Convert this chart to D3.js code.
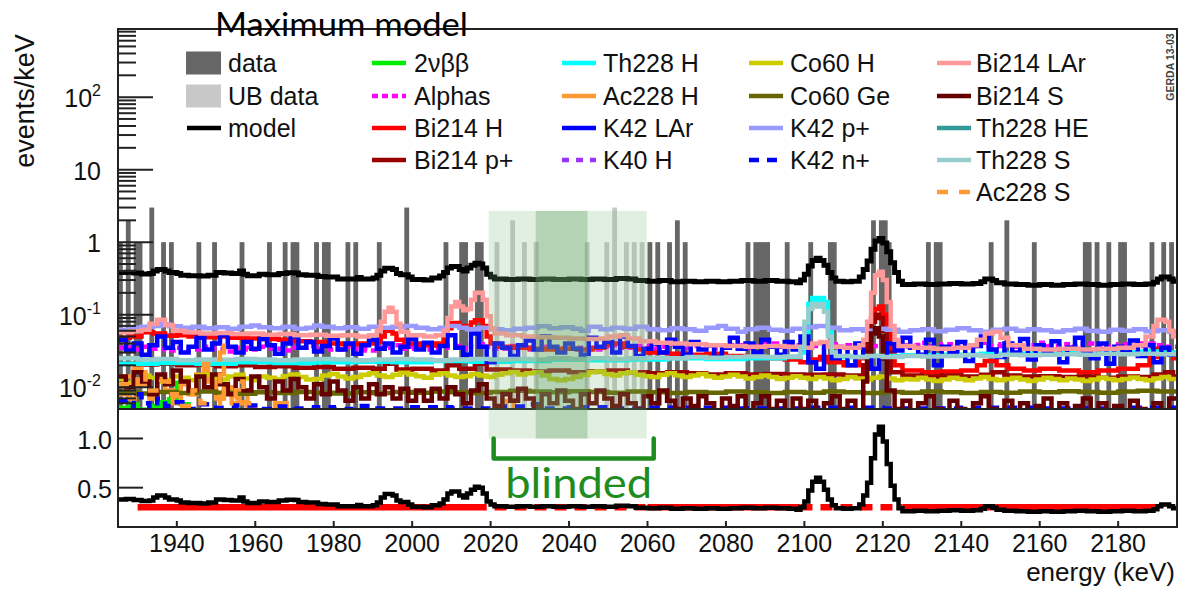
<!DOCTYPE html>
<html><head><meta charset="utf-8">
<script src="https://cdn.jsdelivr.net/npm/d3@7"></script>
<style>body{margin:0;background:#fff}svg{display:block}</style>
</head><body>
<svg id="c" width="1180" height="589"></svg>
<script>
// ---------------- DATA (events/keV, step histograms: [bin start keV, value]) ----------------
const energyDomain = [1925, 2195];
const xTickValues = [1940,1960,1980,2000,2020,2040,2060,2080,2100,2120,2140,2160,2180];
const yTopTicks = [0.01, 0.1, 1, 10, 100];
const yTopTickLabels = [["10","-2"],["10","-1"],["1",""],["10",""],["10","2"]];
const yBotTicks = [0.5, 1.0];
const yBotTickLabels = ["0.5", "1.0"];

const dataBins = [[1925,1],[1927,2],[1929,1],[1930,1],[1933,3],[1936,1],[1938,1],[1945,1],[1949,1],[1956,1],[1963,1],[1967,1],[1969,1],[1970,1],[1975,1],[1977,1],[1978,1],[1983,1],[1985,1],[1991,1],[1998,3],[2008,1],[2012,1],[2013,1],[2016,1],[2017,1],[2060,1],[2062,1],[2065,1],[2067,2],[2069,1],[2085,1],[2087,1],[2088,1],[2089,1],[2090,1],[2095,1],[2101,1],[2106,1],[2107,1],[2117,2],[2119,2],[2120,2],[2121,1],[2131,1],[2133,1],[2134,1],[2147,1],[2151,2],[2158,1],[2171,1],[2172,1],[2174,1],[2177,1],[2180,1],[2181,1],[2188,1],[2191,1],[2193,1]];
const ubDataBins = [[2021,1],[2025,2],[2028,1],[2031,1],[2044,1],[2049,1],[2051,3],[2054,1],[2056,1],[2058,1]];

const model = [[1925,0.38],[1927,0.385],[1929,0.375],[1931,0.365],[1933,0.37],[1934,0.40],[1935,0.42],[1937,0.40],[1938,0.38],[1940,0.37],[1941,0.35],[1943,0.345],[1946,0.34],[1948,0.35],[1950,0.38],[1952,0.375],[1954,0.37],[1956,0.40],[1957,0.36],[1958,0.345],[1961,0.36],[1963,0.355],[1966,0.37],[1968,0.378],[1970,0.375],[1971,0.355],[1973,0.35],[1976,0.335],[1978,0.33],[1980,0.33],[1981,0.31],[1984,0.31],[1986,0.325],[1987,0.31],[1990,0.32],[1991,0.35],[1992,0.40],[1993,0.435],[1995,0.42],[1996,0.37],[1997,0.355],[1999,0.33],[2000,0.305],[2003,0.30],[2005,0.32],[2007,0.34],[2008,0.38],[2009,0.44],[2010,0.46],[2012,0.42],[2013,0.40],[2014,0.44],[2015,0.48],[2016,0.51],[2017,0.50],[2018,0.44],[2019,0.36],[2020,0.33],[2021,0.31],[2024,0.305],[2027,0.31],[2030,0.305],[2033,0.31],[2036,0.305],[2040,0.31],[2043,0.305],[2046,0.31],[2049,0.305],[2052,0.315],[2055,0.31],[2057,0.295],[2060,0.29],[2063,0.295],[2066,0.285],[2069,0.29],[2072,0.285],[2075,0.29],[2078,0.285],[2081,0.29],[2084,0.295],[2087,0.29],[2090,0.295],[2093,0.29],[2096,0.285],[2098,0.275],[2099,0.30],[2100,0.36],[2101,0.47],[2102,0.56],[2103,0.60],[2104,0.56],[2105,0.48],[2106,0.38],[2107,0.32],[2108,0.29],[2110,0.285],[2112,0.29],[2114,0.33],[2115,0.42],[2116,0.55],[2117,0.80],[2118,1.04],[2119,1.12],[2120,0.97],[2121,0.74],[2122,0.52],[2123,0.38],[2124,0.29],[2125,0.26],[2128,0.265],[2131,0.26],[2134,0.265],[2137,0.27],[2140,0.265],[2143,0.27],[2145,0.285],[2146,0.31],[2148,0.295],[2149,0.275],[2151,0.265],[2154,0.26],[2157,0.255],[2160,0.26],[2163,0.255],[2166,0.26],[2169,0.265],[2172,0.26],[2175,0.255],[2178,0.26],[2181,0.265],[2184,0.26],[2187,0.265],[2189,0.28],[2190,0.31],[2191,0.33],[2193,0.31],[2194,0.29]];

const flatBkgLevel = 0.3;
const flatBkgSegments = [[1930,2019,false],[2021,2059.5,true],[2060,2099,false],[2099,2125,true],[2125,2190,false]];

const s2nbb = [[1925,0.0052],[1928,0.0058],[1930,0.0049],[1933,0.0055],[1936,0.0062],[1938,0.0068],[1940,0.0115],[1941,0.0058],[1943,0.0048],[1946,0.0045],[1955,0.004],[1970,0.0035],[2000,0.003],[2100,0.0022],[2190,0.0018]];
const sAlphas = [[1925,0.035],[1928,0.033],[1931,0.036],[1934,0.034],[1937,0.032],[1940,0.035],[1943,0.033],[1946,0.036],[1949,0.034],[1952,0.031],[1955,0.035],[1958,0.033],[1961,0.036],[1964,0.034],[1967,0.032],[1970,0.035],[1973,0.037],[1976,0.034],[1979,0.033],[1982,0.036],[1985,0.034],[1988,0.032],[1991,0.035],[1994,0.038],[1997,0.034],[2000,0.036],[2003,0.033],[2006,0.035],[2009,0.037],[2012,0.034],[2015,0.039],[2018,0.036],[2021,0.034],[2024,0.037],[2027,0.035],[2030,0.033],[2033,0.036],[2036,0.034],[2039,0.037],[2042,0.035],[2045,0.033],[2048,0.036],[2051,0.038],[2054,0.035],[2057,0.037],[2060,0.034],[2063,0.036],[2066,0.039],[2069,0.035],[2072,0.037],[2075,0.034],[2078,0.036],[2081,0.038],[2084,0.035],[2087,0.037],[2090,0.04],[2093,0.036],[2096,0.038],[2099,0.035],[2102,0.037],[2105,0.039],[2108,0.036],[2111,0.038],[2114,0.035],[2117,0.037],[2120,0.04],[2123,0.036],[2126,0.038],[2129,0.041],[2132,0.037],[2135,0.039],[2138,0.036],[2141,0.038],[2144,0.041],[2147,0.037],[2150,0.039],[2153,0.036],[2156,0.038],[2159,0.041],[2162,0.037],[2165,0.039],[2168,0.036],[2171,0.04],[2174,0.038],[2177,0.036],[2180,0.039],[2183,0.037],[2186,0.04],[2189,0.038],[2192,0.036]];
const sBi214H = [[1925,0.048],[1928,0.05],[1931,0.057],[1934,0.055],[1937,0.051],[1940,0.052],[1943,0.05],[1946,0.049],[1950,0.05],[1954,0.048],[1958,0.047],[1962,0.046],[1966,0.045],[1970,0.043],[1974,0.042],[1978,0.04],[1982,0.039],[1986,0.04],[1990,0.042],[1992,0.05],[1993,0.06],[1994,0.063],[1995,0.055],[1996,0.045],[1998,0.04],[2002,0.038],[2006,0.04],[2008,0.05],[2009,0.065],[2010,0.077],[2012,0.07],[2014,0.068],[2015,0.078],[2016,0.084],[2018,0.07],[2019,0.05],[2020,0.04],[2022,0.036],[2026,0.035],[2030,0.034],[2034,0.033],[2038,0.034],[2042,0.033],[2046,0.035],[2049,0.038],[2051,0.04],[2054,0.036],[2057,0.033],[2060,0.03],[2065,0.029],[2070,0.028],[2075,0.029],[2080,0.027],[2085,0.026],[2090,0.025],[2095,0.024],[2099,0.022],[2102,0.024],[2104,0.026],[2106,0.022],[2110,0.02],[2114,0.025],[2116,0.05],[2117,0.09],[2118,0.12],[2119,0.13],[2120,0.1],[2121,0.06],[2122,0.03],[2123,0.02],[2125,0.017],[2130,0.016],[2135,0.0165],[2140,0.017],[2144,0.02],[2146,0.023],[2149,0.02],[2152,0.018],[2156,0.017],[2160,0.018],[2165,0.017],[2170,0.016],[2175,0.017],[2180,0.018],[2185,0.02],[2188,0.026],[2190,0.034],[2192,0.03],[2194,0.025]];
const sBi214p = [[1925,0.021],[1930,0.0205],[1935,0.021],[1940,0.02],[1945,0.0205],[1950,0.0195],[1955,0.02],[1960,0.019],[1965,0.0195],[1970,0.0185],[1975,0.019],[1980,0.018],[1985,0.0185],[1990,0.018],[1993,0.021],[1996,0.0175],[2000,0.018],[2005,0.017],[2009,0.02],[2012,0.018],[2016,0.021],[2019,0.0175],[2025,0.017],[2030,0.0165],[2035,0.017],[2040,0.016],[2045,0.0165],[2050,0.017],[2055,0.016],[2060,0.0155],[2065,0.016],[2070,0.0155],[2075,0.015],[2080,0.0155],[2085,0.015],[2090,0.0152],[2095,0.015],[2100,0.0148],[2105,0.015],[2110,0.0145],[2115,0.02],[2116,0.045],[2117,0.08],[2118,0.1],[2119,0.09],[2120,0.06],[2121,0.03],[2122,0.016],[2125,0.0145],[2130,0.014],[2135,0.0145],[2140,0.014],[2145,0.0148],[2148,0.016],[2151,0.0145],[2155,0.014],[2160,0.0142],[2165,0.0138],[2170,0.014],[2175,0.0135],[2180,0.014],[2185,0.0138],[2189,0.015],[2192,0.016],[2194,0.014]];
const sTh228H = [[1925,0.021],[1935,0.0215],[1945,0.021],[1955,0.022],[1965,0.0215],[1975,0.022],[1985,0.0225],[1995,0.022],[2005,0.023],[2015,0.0225],[2025,0.023],[2035,0.024],[2045,0.0235],[2055,0.024],[2065,0.025],[2075,0.0245],[2085,0.025],[2095,0.026],[2099,0.03],[2100,0.05],[2101,0.14],[2102,0.17],[2103,0.16],[2104,0.17],[2105,0.15],[2106,0.06],[2107,0.03],[2108,0.026],[2115,0.027],[2125,0.0275],[2135,0.028],[2145,0.029],[2155,0.029],[2165,0.03],[2175,0.03],[2185,0.031],[2190,0.03]];
const sAc228H = [[1925,0.008],[1927,0.014],[1929,0.018],[1931,0.011],[1933,0.007],[1935,0.013],[1937,0.009],[1939,0.006],[1941,0.011],[1943,0.008],[1945,0.015],[1947,0.022],[1948,0.012],[1950,0.007],[1952,0.01],[1954,0.006],[1956,0.009],[1958,0.005],[1960,0.0045],[1965,0.006],[1968,0.004],[1975,0.0045],[1980,0.004],[2000,0.0035],[2024,0.0065],[2026,0.004],[2050,0.0035],[2100,0.003]];
const sK42LAr = [[1925,0.045],[1927,0.032],[1929,0.04],[1931,0.028],[1933,0.038],[1935,0.05],[1937,0.035],[1939,0.042],[1941,0.03],[1943,0.036],[1945,0.048],[1947,0.033],[1949,0.04],[1951,0.052],[1953,0.036],[1955,0.03],[1957,0.042],[1959,0.034],[1961,0.046],[1963,0.038],[1965,0.029],[1967,0.04],[1969,0.05],[1971,0.035],[1973,0.042],[1975,0.031],[1977,0.037],[1979,0.047],[1981,0.033],[1983,0.04],[1985,0.029],[1987,0.038],[1989,0.045],[1991,0.034],[1993,0.04],[1995,0.03],[1997,0.036],[1999,0.046],[2001,0.033],[2003,0.041],[2005,0.03],[2007,0.037],[2009,0.052],[2011,0.035],[2013,0.028],[2015,0.055],[2017,0.036],[2019,0.022],[2021,0.04],[2023,0.035],[2025,0.027],[2027,0.038],[2029,0.044],[2031,0.033],[2033,0.05],[2035,0.036],[2037,0.03],[2039,0.04],[2041,0.034],[2043,0.028],[2045,0.048],[2047,0.036],[2049,0.042],[2051,0.03],[2053,0.05],[2055,0.037],[2057,0.027],[2059,0.034],[2061,0.04],[2063,0.03],[2065,0.045],[2067,0.036],[2069,0.028],[2071,0.042],[2073,0.033],[2075,0.038],[2077,0.026],[2079,0.035],[2081,0.048],[2083,0.034],[2085,0.04],[2087,0.03],[2089,0.045],[2091,0.036],[2093,0.028],[2095,0.042],[2097,0.033],[2099,0.05],[2101,0.022],[2103,0.018],[2105,0.038],[2107,0.025],[2109,0.035],[2111,0.02],[2113,0.04],[2115,0.03],[2117,0.018],[2119,0.025],[2121,0.04],[2123,0.032],[2125,0.048],[2127,0.035],[2129,0.028],[2131,0.045],[2133,0.02],[2135,0.036],[2137,0.03],[2139,0.042],[2141,0.023],[2143,0.037],[2145,0.05],[2147,0.033],[2149,0.026],[2151,0.04],[2153,0.03],[2155,0.046],[2157,0.024],[2159,0.038],[2161,0.03],[2163,0.043],[2165,0.022],[2167,0.035],[2169,0.048],[2171,0.032],[2173,0.025],[2175,0.04],[2177,0.021],[2179,0.036],[2181,0.03],[2183,0.044],[2185,0.027],[2187,0.038],[2189,0.022],[2191,0.035],[2193,0.028]];
const sK40H = [[1925,0.0042],[1960,0.0040],[2000,0.0038],[2060,0.0037],[2120,0.0036],[2160,0.0035]];
const sCo60H = [[1925,0.013],[1927,0.0115],[1929,0.0125],[1931,0.0145],[1933,0.0135],[1935,0.012],[1937,0.0125],[1939,0.014],[1941,0.0135],[1943,0.0125],[1945,0.0145],[1947,0.015],[1949,0.0135],[1951,0.0128],[1953,0.014],[1955,0.0148],[1957,0.0132],[1959,0.0125],[1961,0.014],[1963,0.0135],[1965,0.0128],[1967,0.0142],[1969,0.015],[1971,0.0138],[1973,0.0128],[1975,0.013],[1977,0.0145],[1979,0.0152],[1981,0.014],[1983,0.0132],[1985,0.0138],[1987,0.0148],[1989,0.0155],[1991,0.0145],[1993,0.0138],[1995,0.0148],[1997,0.0158],[1999,0.015],[2001,0.0142],[2003,0.0135],[2005,0.0148],[2007,0.0155],[2009,0.0145],[2011,0.0138],[2013,0.0142],[2015,0.0152],[2017,0.0145],[2019,0.0138],[2021,0.0148],[2023,0.0155],[2025,0.0162],[2027,0.015],[2029,0.0155],[2031,0.016],[2033,0.0145],[2035,0.013],[2037,0.0125],[2039,0.013],[2041,0.0138],[2043,0.0148],[2045,0.016],[2047,0.0165],[2049,0.0152],[2051,0.0145],[2053,0.0155],[2055,0.016],[2057,0.0148],[2059,0.0142],[2061,0.0138],[2063,0.0148],[2065,0.0155],[2067,0.0145],[2069,0.0138],[2071,0.0145],[2073,0.0152],[2075,0.0142],[2077,0.0135],[2079,0.014],[2081,0.0148],[2083,0.014],[2085,0.0132],[2087,0.0138],[2089,0.0145],[2091,0.0138],[2093,0.013],[2095,0.0135],[2097,0.0142],[2099,0.0135],[2101,0.013],[2103,0.0138],[2105,0.0132],[2107,0.0125],[2109,0.013],[2111,0.0138],[2113,0.0132],[2115,0.0128],[2117,0.0135],[2119,0.014],[2121,0.0132],[2123,0.0125],[2125,0.013],[2127,0.0128],[2129,0.0135],[2131,0.0128],[2133,0.0122],[2135,0.0128],[2137,0.0135],[2139,0.013],[2141,0.0125],[2143,0.0132],[2145,0.0138],[2147,0.013],[2149,0.0125],[2151,0.013],[2153,0.0135],[2155,0.0128],[2157,0.0122],[2159,0.0128],[2161,0.0135],[2163,0.013],[2165,0.0125],[2167,0.0132],[2169,0.0128],[2171,0.0122],[2173,0.0128],[2175,0.0135],[2177,0.013],[2179,0.0125],[2181,0.013],[2183,0.0136],[2185,0.013],[2187,0.0125],[2189,0.0132],[2191,0.0138],[2193,0.013]];
const sCo60Ge = [[1925,0.0085],[1930,0.0082],[1935,0.0086],[1940,0.0083],[1945,0.0087],[1950,0.0084],[1955,0.0081],[1960,0.0085],[1965,0.0083],[1970,0.0086],[1975,0.0084],[1980,0.0082],[1985,0.0085],[1990,0.0083],[1995,0.0086],[2000,0.0084],[2005,0.0087],[2010,0.0085],[2015,0.0083],[2020,0.0086],[2025,0.0089],[2030,0.0087],[2035,0.0085],[2040,0.0088],[2045,0.0086],[2050,0.0084],[2055,0.0087],[2060,0.0085],[2065,0.0083],[2070,0.0086],[2075,0.0084],[2080,0.0087],[2085,0.0085],[2090,0.0083],[2095,0.0086],[2100,0.0084],[2105,0.0087],[2110,0.0085],[2115,0.0083],[2120,0.0086],[2125,0.0084],[2130,0.0087],[2135,0.0085],[2140,0.0083],[2145,0.0086],[2150,0.0084],[2155,0.0087],[2160,0.0085],[2165,0.0088],[2170,0.0086],[2175,0.0084],[2180,0.0087],[2185,0.0089],[2190,0.0087]];
const sK42p = [[1925,0.062],[1928,0.066],[1931,0.068],[1934,0.070],[1936,0.074],[1938,0.069],[1941,0.066],[1944,0.068],[1947,0.065],[1950,0.067],[1953,0.064],[1956,0.068],[1959,0.071],[1961,0.067],[1964,0.065],[1967,0.068],[1970,0.064],[1973,0.066],[1975,0.071],[1977,0.068],[1980,0.065],[1983,0.067],[1986,0.064],[1989,0.068],[1992,0.066],[1995,0.068],[1998,0.070],[2001,0.066],[2004,0.063],[2007,0.066],[2009,0.070],[2012,0.066],[2014,0.063],[2017,0.066],[2020,0.063],[2023,0.061],[2026,0.064],[2029,0.066],[2032,0.069],[2035,0.065],[2038,0.067],[2041,0.064],[2043,0.060],[2045,0.068],[2048,0.063],[2051,0.066],[2054,0.064],[2057,0.068],[2060,0.063],[2063,0.061],[2066,0.065],[2069,0.063],[2072,0.060],[2075,0.066],[2078,0.070],[2080,0.064],[2083,0.058],[2085,0.063],[2088,0.066],[2091,0.062],[2094,0.060],[2097,0.064],[2100,0.067],[2103,0.070],[2106,0.066],[2109,0.061],[2112,0.063],[2115,0.060],[2118,0.064],[2121,0.062],[2124,0.058],[2127,0.061],[2130,0.063],[2133,0.059],[2136,0.062],[2139,0.065],[2142,0.061],[2145,0.058],[2148,0.062],[2151,0.064],[2154,0.060],[2157,0.063],[2160,0.061],[2163,0.058],[2166,0.061],[2169,0.064],[2172,0.060],[2175,0.058],[2178,0.062],[2181,0.060],[2184,0.063],[2187,0.059],[2190,0.061],[2193,0.058]];
const sK42n = [[1925,0.0065],[1927,0.0055],[1929,0.008],[1931,0.006],[1933,0.0052],[1935,0.007],[1937,0.0055],[1940,0.0062],[1943,0.005],[1946,0.0058],[1950,0.0052],[1955,0.0056],[1960,0.005],[1965,0.0054],[1970,0.0051],[1975,0.0053],[1980,0.005],[1985,0.0055],[1990,0.0051],[2000,0.0053],[2010,0.0051],[2020,0.0054],[2030,0.0058],[2033,0.0051],[2040,0.0053],[2050,0.0051],[2060,0.0052],[2080,0.0051],[2100,0.0052],[2120,0.0051],[2140,0.0052],[2160,0.0051],[2180,0.0052]];
const sBi214LAr = [[1925,0.057],[1928,0.059],[1931,0.062],[1933,0.075],[1935,0.085],[1937,0.072],[1939,0.06],[1942,0.057],[1946,0.055],[1950,0.056],[1954,0.054],[1958,0.055],[1962,0.053],[1966,0.054],[1970,0.052],[1974,0.053],[1978,0.051],[1982,0.052],[1986,0.05],[1989,0.052],[1991,0.06],[1992,0.08],[1993,0.11],[1994,0.125],[1995,0.11],[1996,0.075],[1997,0.058],[1999,0.052],[2003,0.05],[2006,0.052],[2008,0.06],[2009,0.09],[2010,0.13],[2011,0.15],[2012,0.13],[2013,0.115],[2014,0.12],[2015,0.16],[2016,0.2],[2017,0.2],[2018,0.16],[2019,0.095],[2020,0.065],[2021,0.055],[2024,0.052],[2028,0.05],[2032,0.049],[2036,0.048],[2040,0.047],[2044,0.046],[2048,0.047],[2050,0.05],[2053,0.052],[2055,0.047],[2058,0.043],[2062,0.041],[2066,0.04],[2070,0.039],[2075,0.038],[2080,0.037],[2085,0.036],[2090,0.037],[2095,0.036],[2099,0.035],[2102,0.04],[2104,0.042],[2106,0.036],[2110,0.035],[2114,0.038],[2115,0.045],[2116,0.08],[2117,0.2],[2118,0.35],[2119,0.39],[2120,0.3],[2121,0.15],[2122,0.07],[2123,0.045],[2124,0.037],[2128,0.035],[2133,0.034],[2138,0.035],[2142,0.038],[2144,0.045],[2146,0.055],[2148,0.058],[2150,0.048],[2152,0.038],[2156,0.034],[2160,0.033],[2165,0.034],[2170,0.033],[2175,0.034],[2180,0.035],[2184,0.038],[2187,0.05],[2189,0.07],[2190,0.085],[2192,0.08],[2193,0.06],[2194,0.05]];
const sBi214S = [[1925,0.014],[1927,0.010],[1929,0.016],[1931,0.012],[1933,0.008],[1935,0.015],[1937,0.011],[1939,0.017],[1941,0.012],[1943,0.009],[1945,0.014],[1947,0.010],[1949,0.015],[1951,0.011],[1953,0.008],[1955,0.013],[1957,0.009],[1959,0.014],[1961,0.010],[1963,0.007],[1965,0.012],[1967,0.009],[1969,0.013],[1971,0.010],[1973,0.007],[1975,0.011],[1977,0.008],[1979,0.012],[1981,0.009],[1983,0.0065],[1985,0.010],[1987,0.007],[1989,0.011],[1991,0.008],[1993,0.010],[1995,0.007],[1997,0.0095],[1999,0.0065],[2001,0.009],[2003,0.0065],[2005,0.0095],[2007,0.007],[2009,0.010],[2011,0.008],[2013,0.006],[2015,0.009],[2017,0.011],[2019,0.007],[2021,0.0055],[2023,0.008],[2025,0.0065],[2027,0.0095],[2029,0.007],[2031,0.0055],[2033,0.008],[2035,0.006],[2037,0.009],[2039,0.0065],[2041,0.005],[2043,0.008],[2045,0.006],[2047,0.009],[2049,0.007],[2051,0.0055],[2053,0.008],[2055,0.006],[2057,0.005],[2059,0.0075],[2061,0.006],[2063,0.009],[2065,0.0065],[2067,0.005],[2069,0.007],[2071,0.0055],[2073,0.0075],[2075,0.006],[2077,0.0045],[2079,0.007],[2081,0.0055],[2083,0.0075],[2085,0.0045],[2087,0.006],[2089,0.0075],[2091,0.005],[2093,0.0065],[2095,0.0045],[2097,0.007],[2099,0.005],[2101,0.0065],[2103,0.0045],[2105,0.006],[2107,0.0075],[2109,0.005],[2111,0.0065],[2113,0.0045],[2115,0.012],[2116,0.03],[2117,0.055],[2118,0.065],[2119,0.05],[2120,0.025],[2121,0.009],[2123,0.005],[2125,0.0065],[2127,0.0045],[2129,0.006],[2131,0.0075],[2133,0.005],[2135,0.0042],[2137,0.0065],[2139,0.005],[2141,0.0042],[2143,0.006],[2145,0.0075],[2147,0.005],[2149,0.0042],[2151,0.0065],[2153,0.0048],[2155,0.006],[2157,0.0042],[2159,0.0055],[2161,0.007],[2163,0.0048],[2165,0.006],[2167,0.0042],[2169,0.0055],[2171,0.007],[2173,0.0048],[2175,0.006],[2177,0.0042],[2179,0.0055],[2181,0.0048],[2183,0.0065],[2185,0.005],[2187,0.0042],[2189,0.006],[2191,0.0048],[2193,0.007]];
const sTh228HE = [[1925,0.0045],[1980,0.0043],[2040,0.0042],[2100,0.0041],[2160,0.004]];
const sTh228S = [[1925,0.025],[1930,0.024],[1935,0.0245],[1940,0.0235],[1945,0.024],[1950,0.0238],[1955,0.0245],[1960,0.024],[1965,0.0235],[1970,0.024],[1975,0.0245],[1980,0.024],[1985,0.0235],[1990,0.024],[1995,0.0245],[2000,0.024],[2005,0.0235],[2010,0.024],[2015,0.0245],[2020,0.024],[2025,0.0245],[2030,0.024],[2035,0.025],[2040,0.0245],[2045,0.025],[2050,0.0245],[2055,0.025],[2060,0.0255],[2065,0.025],[2070,0.026],[2075,0.0255],[2080,0.026],[2085,0.0265],[2090,0.026],[2095,0.0265],[2099,0.035],[2100,0.08],[2101,0.12],[2102,0.14],[2103,0.13],[2104,0.14],[2105,0.11],[2106,0.05],[2107,0.03],[2108,0.027],[2112,0.026],[2116,0.027],[2120,0.026],[2125,0.027],[2130,0.0265],[2135,0.027],[2140,0.0275],[2145,0.027],[2150,0.028],[2155,0.0275],[2160,0.028],[2165,0.0285],[2170,0.028],[2175,0.029],[2180,0.0285],[2185,0.029],[2190,0.0285]];
const sAc228S = [[1925,0.011],[1928,0.007],[1930,0.016],[1932,0.009],[1936,0.012],[1938,0.008],[1940,0.0055],[1944,0.009],[1946,0.006],[1951,0.04],[1952,0.007],[1955,0.012],[1957,0.006],[1960,0.0045],[1970,0.004],[2000,0.0035],[2100,0.003]];

const blindedOuter = [2019.5, 2059.8];
const blindedInner = [2031.5, 2044.7];

// ---------------- SETUP ----------------
const FONT = '"Liberation Sans", Arial, Helvetica, sans-serif';
const svg = d3.select('#c');
const x = d3.scaleLinear().domain(energyDomain).range([118, 1177]);
const yT = d3.scaleLog().domain([0.005, 870]).range([409, 29]);
const yB = d3.scaleLinear().domain([0.1, 1.3]).range([527, 409]);

const defs = svg.append('defs');
defs.append('clipPath').attr('id','clipT').append('rect')
  .attr('x',x.range()[0]).attr('y',yT.range()[1]).attr('width',x.range()[1]-x.range()[0]).attr('height',yT.range()[0]-yT.range()[1]);
defs.append('clipPath').attr('id','clipB').append('rect')
  .attr('x',x.range()[0]).attr('y',yB.range()[1]).attr('width',x.range()[1]-x.range()[0]).attr('height',yB.range()[0]-yB.range()[1]);

const ext = p => p.concat([[energyDomain[1], p[p.length-1][1]]]);
const stepT = d3.line().x(d=>x(d[0])).y(d=>yT(d[1])).curve(d3.curveStepAfter);
const stepB = d3.line().x(d=>x(d[0])).y(d=>yB(d[1])).curve(d3.curveStepAfter);

// ---------------- TOP PANEL ----------------
const gT = svg.append('g').attr('clip-path','url(#clipT)');
const bar = (sel, bins, color) => sel.selectAll(null).data(bins).join('rect')
  .attr('x', d=>x(d[0])).attr('width', d=>x(d[0]+1)-x(d[0])+0.9)
  .attr('y', d=>yT(d[1])).attr('height', d=>yT.range()[0]-yT(d[1])).attr('fill', color);
bar(gT, dataBins, '#666666');
bar(gT, ubDataBins, '#c8c8c8');

const components = [
  {name:'2νββ', data:s2nbb, color:'#00ee00'},
  {name:'Alphas', data:sAlphas, color:'#ff00ff', dash:'6,4'},
  {name:'Bi214 H', data:sBi214H, color:'#ff0000'},
  {name:'Bi214 p+', data:sBi214p, color:'#990000'},
  {name:'Th228 H', data:sTh228H, color:'#00ffff'},
  {name:'Ac228 H', data:sAc228H, color:'#ff9933'},
  {name:'K42 LAr', data:sK42LAr, color:'#0000ff'},
  {name:'K40 H', data:sK40H, color:'#9933ff', dash:'7,7'},
  {name:'Co60 H', data:sCo60H, color:'#cccc00'},
  {name:'Co60 Ge', data:sCo60Ge, color:'#666600'},
  {name:'K42 p+', data:sK42p, color:'#9999ff'},
  {name:'K42 n+', data:sK42n, color:'#0000ff', dash:'10,8'},
  {name:'Bi214 LAr', data:sBi214LAr, color:'#ff9999'},
  {name:'Bi214 S', data:sBi214S, color:'#660000'},
  {name:'Th228 HE', data:sTh228HE, color:'#339999'},
  {name:'Th228 S', data:sTh228S, color:'#99cccc'},
  {name:'Ac228 S', data:sAc228S, color:'#ff9933', dash:'11,11'}
];
components.forEach(c => {
  gT.append('path').attr('d', stepT(ext(c.data))).attr('fill','none')
    .attr('stroke', c.color).attr('stroke-width', 4.5)
    .attr('stroke-dasharray', c.dash || null);
});
gT.append('path').attr('d', stepT(ext(model))).attr('fill','none').attr('stroke','#000').attr('stroke-width',5);

// ---------------- BOTTOM PANEL ----------------
const gB = svg.append('g').attr('clip-path','url(#clipB)');
flatBkgSegments.forEach(s => {
  gB.append('line').attr('x1',x(s[0])).attr('x2',x(s[1])).attr('y1',yB(flatBkgLevel)).attr('y2',yB(flatBkgLevel))
    .attr('stroke','#ff0000').attr('stroke-width',6.5).attr('stroke-dasharray', s[2] ? '12,8' : null);
});
gB.append('path').attr('d', stepB(ext(model))).attr('fill','none').attr('stroke','#000').attr('stroke-width',4.5);

// ---------------- FRAMES & AXES ----------------
const ax = svg.append('g').attr('stroke','#222').attr('fill','none').attr('stroke-width',2);
ax.append('rect').attr('x',x.range()[0]).attr('y',yT.range()[1]).attr('width',x.range()[1]-x.range()[0]).attr('height',yT.range()[0]-yT.range()[1]);
ax.append('rect').attr('x',x.range()[0]).attr('y',yB.range()[1]).attr('width',x.range()[1]-x.range()[0]).attr('height',yB.range()[0]-yB.range()[1]);

const x0 = x.range()[0];
for (let n=-3; n<=2; n++) for (let k=1; k<=9; k++) {
  const v = k*Math.pow(10,n);
  if (v < yT.domain()[0]-1e-12 || v > yT.domain()[1]) continue;
  ax.append('line').attr('x1',x0).attr('x2',x0+(k===1?35:18)).attr('y1',yT(v)).attr('y2',yT(v));
}
yBotTicks.forEach(v => ax.append('line').attr('x1',x0).attr('x2',x0+25).attr('y1',yB(v)).attr('y2',yB(v)));
xTickValues.forEach(v => ax.append('line').attr('x1',x(v)).attr('x2',x(v)).attr('y1',yB.range()[0]).attr('y2',yB.range()[0]-6));

const txt = svg.append('g').attr('font-family',FONT).attr('fill','#111');
yTopTicks.forEach((v,i) => {
  const [base, ex] = yTopTickLabels[i];
  const t = txt.append('text').attr('x',101).attr('y',yT(v)+10).attr('text-anchor','end').attr('font-size',25);
  t.append('tspan').text(base);
  if (ex) t.append('tspan').attr('dy',-11).attr('font-size',16).text(ex);
});
yBotTicks.forEach((v,i) => txt.append('text').attr('x',112).attr('y',yB(v)+10).attr('text-anchor','end').attr('font-size',25).text(yBotTickLabels[i]));
xTickValues.forEach(v => txt.append('text').attr('x',x(v)).attr('y',552).attr('text-anchor','middle').attr('font-size',25).text(v));
txt.append('text').attr('x',1175).attr('y',581).attr('text-anchor','end').attr('font-size',26).text('energy (keV)');
txt.append('text').attr('transform','translate(34,101) rotate(-90)').attr('text-anchor','middle').attr('font-size',27).text('events/keV');
txt.append('text').attr('transform','translate(1174,67) rotate(-90)').attr('text-anchor','middle').attr('font-size',10.5).attr('font-weight','bold').attr('fill','#444').text('GERDA 13-03');

// title
svg.append('text').attr('x',215).attr('y',36).attr('font-family','Lato, "Open Sans", sans-serif').attr('font-size',33)
  .attr('textLength',253).attr('lengthAdjust','spacingAndGlyphs').attr('fill','#000').text('Maximum model');

// ---------------- LEGEND ----------------
const legCols = [[187,228],[372,414],[562,603],[749,790],[937,976]];
const legRows = [63,96,128,160,192];
const legendItems = [
  {label:'data', col:0, row:0, box:'#666666'},
  {label:'UB data', col:0, row:1, box:'#c8c8c8'},
  {label:'model', col:0, row:2, color:'#000'}
].concat(components.map((c,i) => {
  const col = i < 4 ? 1 : i < 8 ? 2 : i < 12 ? 3 : 4;
  const row = i < 12 ? i % 4 : i - 12;
  return {label:c.name, col, row, color:c.color, dash:c.dash};
}));
const lg = svg.append('g');
legendItems.forEach(it => {
  const [sx, tx] = legCols[it.col], cy = legRows[it.row];
  if (it.box) lg.append('rect').attr('x',sx-1).attr('y',cy-11.5).attr('width',35).attr('height',23).attr('fill',it.box);
  else lg.append('line').attr('x1',sx).attr('x2',sx+34).attr('y1',cy).attr('y2',cy)
        .attr('stroke',it.color).attr('stroke-width',4.5).attr('stroke-dasharray',it.dash||null);
  lg.append('text').attr('x',tx).attr('y',cy+9).attr('font-family',FONT).attr('font-size',25).attr('fill','#111').text(it.label);
});

// ---------------- BLINDED OVERLAY ----------------
const ovTop = yT(2.7), ovBot = yB(1.0);
svg.append('rect').attr('x',x(blindedOuter[0])).attr('width',x(blindedOuter[1])-x(blindedOuter[0]))
  .attr('y',ovTop).attr('height',ovBot-ovTop).attr('fill','rgb(120,180,120)').attr('fill-opacity',0.22);
svg.append('rect').attr('x',x(blindedInner[0])).attr('width',x(blindedInner[1])-x(blindedInner[0]))
  .attr('y',ovTop).attr('height',ovBot-ovTop).attr('fill','rgb(100,160,100)').attr('fill-opacity',0.36);
const bx0 = x(blindedOuter[0])+5, bx1 = x(blindedOuter[1])+7;
svg.append('path').attr('d',`M${bx0},${ovBot}V${ovBot+20}H${bx1}V${ovBot}`).attr('fill','none')
  .attr('stroke','#1f8c1f').attr('stroke-width',4.5).attr('stroke-linejoin','round').attr('stroke-linecap','round');
svg.append('text').attr('x',(bx0+bx1)/2+5).attr('y',498).attr('text-anchor','middle')
  .attr('font-family','Lato, "Open Sans", sans-serif').attr('font-size',42).attr('fill','#1f8c1f')
  .attr('textLength',147).attr('lengthAdjust','spacingAndGlyphs').text('blinded');
</script>
</body></html>
